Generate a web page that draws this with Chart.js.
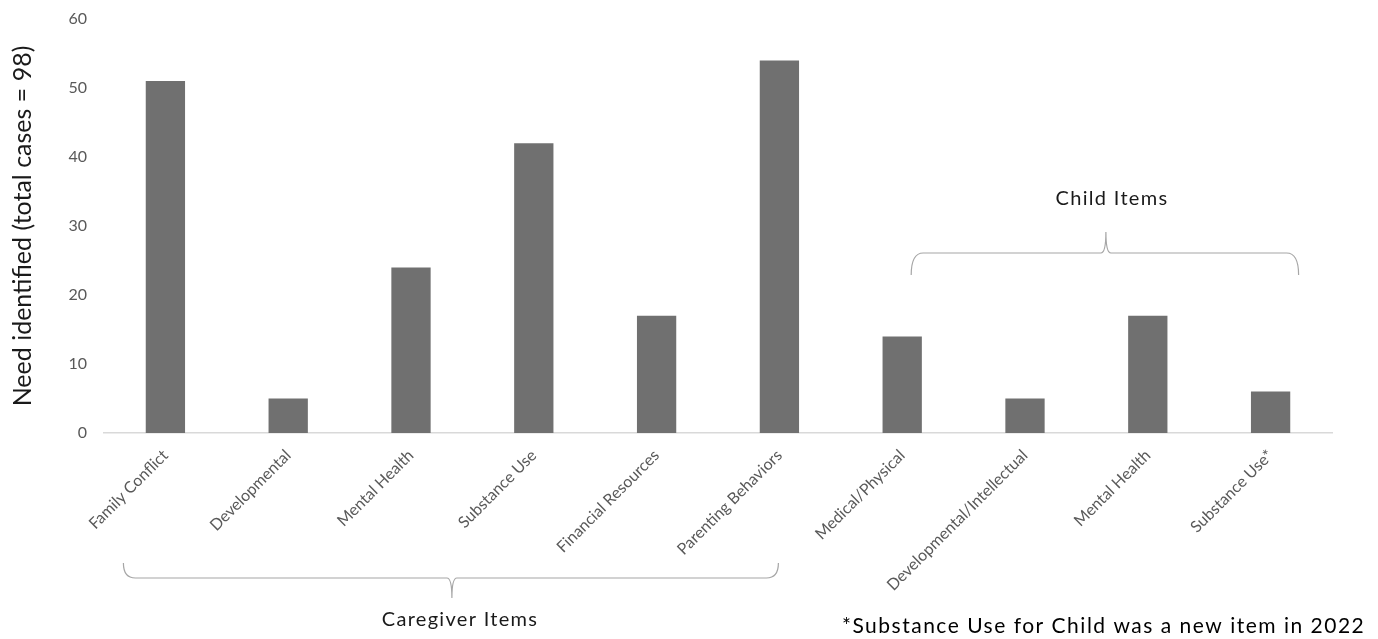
<!DOCTYPE html>
<html>
<head>
<meta charset="utf-8">
<script src="https://cdn.jsdelivr.net/npm/chart.js@4.4.1/dist/chart.umd.min.js"></script>
<style>
  html, body { margin: 0; padding: 0; background: #ffffff; }
  #wrap { width: 1378px; height: 639px; position: relative; }
</style>
</head>
<body>
<div id="wrap"><canvas id="needs"></canvas></div>
<script>
// Needs identified across 98 cases, caregiver items then child items
const categories = [
  'Family Conflict', 'Developmental', 'Mental Health', 'Substance Use',
  'Financial Resources', 'Parenting Behaviors',
  'Medical/Physical', 'Developmental/Intellectual', 'Mental Health', 'Substance Use*'
];
const needCounts = [51, 5, 24, 42, 17, 54, 14, 5, 17, 6];
const yTicks = [0, 10, 20, 30, 40, 50, 60];
const groupLabels = ['Caregiver Items', 'Child Items'];
const footnote = '*Substance Use for Child was a new item in 2022';

const FONT = 'Lato, "Open Sans", sans-serif';

// Brackets grouping the categories, plus the footnote
const groupBrackets = {
  id: 'groupBrackets',
  afterDraw(chart) {
    const ctx = chart.ctx;
    const x = chart.scales.x;
    ctx.save();
    ctx.strokeStyle = '#a6a6a6';
    ctx.lineWidth = 1.2;

    // Caregiver bracket (below the labels, tip pointing down)
    const cl = x.getPixelForValue(0) - 42, cr = x.getPixelForValue(5) - 1;
    const cm = (cl + cr) / 2 + 1;
    const top = 563, mid = 578, tip = 598;
    ctx.beginPath();
    ctx.moveTo(cl, top);
    ctx.quadraticCurveTo(cl, mid, cl + 12, mid);
    ctx.lineTo(cm - 5, mid);
    ctx.quadraticCurveTo(cm, mid, cm, tip);
    ctx.quadraticCurveTo(cm, mid, cm + 5, mid);
    ctx.lineTo(cr - 12, mid);
    ctx.quadraticCurveTo(cr, mid, cr, top);
    ctx.stroke();

    // Child bracket (above the small bars, tip pointing up)
    const kl = x.getPixelForValue(6) + 9, kr = x.getPixelForValue(9) + 28;
    const km = (kl + kr) / 2 + 1;
    const ktop = 232, kmid = 253, kbot = 275;
    ctx.beginPath();
    ctx.moveTo(kl, kbot);
    ctx.quadraticCurveTo(kl, kmid, kl + 12, kmid);
    ctx.lineTo(km - 5, kmid);
    ctx.quadraticCurveTo(km, kmid, km, ktop);
    ctx.quadraticCurveTo(km, kmid, km + 5, kmid);
    ctx.lineTo(kr - 12, kmid);
    ctx.quadraticCurveTo(kr, kmid, kr, kbot);
    ctx.stroke();

    ctx.fillStyle = '#1a1a1a';
    ctx.textAlign = 'center';
    ctx.textBaseline = 'middle';
    ctx.letterSpacing = '1.3px';
    ctx.font = '20px ' + FONT;
    ctx.fillText(groupLabels[0], 460, 620);
    ctx.fillText(groupLabels[1], 1112, 199);

    ctx.font = '21px ' + FONT;
    ctx.letterSpacing = '1.5px';
    ctx.textAlign = 'left';
    ctx.fillStyle = '#000000';
    ctx.fillText(footnote, 842, 626);
    ctx.restore();
  }
};

new Chart(document.getElementById('needs'), {
  type: 'bar',
  data: {
    labels: categories,
    datasets: [{
      data: needCounts,
      backgroundColor: '#707070',
      borderWidth: 0,
      barPercentage: 0.32,
      categoryPercentage: 1.0
    }]
  },
  options: {
    responsive: true,
    maintainAspectRatio: false,
    animation: false,
    layout: { padding: { top: 19, right: 46, bottom: 0, left: 0 } },
    plugins: {
      legend: { display: false },
      tooltip: { enabled: false }
    },
    scales: {
      x: {
        grid: { display: false, drawTicks: false },
        border: { color: '#d9d9d9', width: 1.5 },
        ticks: {
          color: '#595959',
          font: { family: FONT, size: 16 },
          maxRotation: 45,
          minRotation: 45,
          padding: 13,
          autoSkip: false
        },
        afterFit(scale) { scale.height = 639 - 433; }
      },
      y: {
        min: 0,
        max: 60,
        afterBuildTicks(scale) { scale.ticks = yTicks.map(v => ({ value: v })); },
        grid: { display: false, drawTicks: false },
        border: { display: false },
        ticks: {
          color: '#595959',
          font: { family: FONT, size: 16 },
          padding: 17
        },
        title: {
          display: true,
          text: 'Need identified (total cases = 98)',
          color: '#1a1a1a',
          font: { family: FONT, size: 25 },
          padding: { top: 8, bottom: 0 }
        },
        afterFit(scale) {
          scale.width = 104;
          scale.paddingTop = 0;
          scale.paddingBottom = 0;
        }
      }
    }
  },
  plugins: [groupBrackets]
});
</script>
</body>
</html>
